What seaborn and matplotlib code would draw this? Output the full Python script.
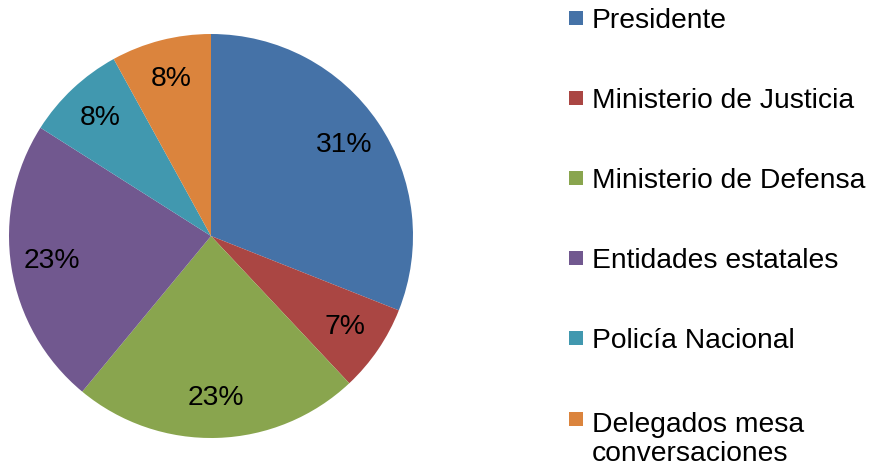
import matplotlib
matplotlib.use("Agg")
import matplotlib.pyplot as plt
import seaborn as sns
from matplotlib.patches import Rectangle

sns.set_theme(style="white")
plt.rcParams['font.family'] = ['Liberation Sans', 'DejaVu Sans']

categories = ["Presidente", "Ministerio de Justicia", "Ministerio de Defensa",
              "Entidades estatales", "Policía Nacional", "Delegados mesa\nconversaciones"]
values = [31, 7, 23, 23, 8, 8]
colors = ["#4572A7", "#AA4643", "#89A54E", "#71588F", "#4198AF", "#DB843D"]

W, H = 871, 469
fig = plt.figure(figsize=(W / 100, H / 100), dpi=100)
cx, cy, r = 211, 236, 202
ax = fig.add_axes([(cx - r) / W, (H - cy - r) / H, 2 * r / W, 2 * r / H])
ax.pie(values, colors=colors, startangle=90, counterclock=False,
       autopct=lambda p: f"{p:.0f}%", pctdistance=0.8, radius=1,
       textprops=dict(fontsize=20.3, color="black"),
       wedgeprops=dict(linewidth=0))
ax.set_xlim(-1, 1)
ax.set_ylim(-1, 1)
ax.set_aspect('equal')
ax.axis('off')

# legend (square aligned with first text line)
first_baselines = [28, 108, 188, 268, 348, 429]
line_step = 32
for lab, col, b in zip(categories, colors, first_baselines):
    n_lines = lab.count("\n")
    fig.patches.append(Rectangle((569 / W, 1 - (b - 3) / H), 14 / W, 14 / H,
                                 transform=fig.transFigure, facecolor=col,
                                 edgecolor='none'))
    fig.text(592 / W, 1 - (b + n_lines * line_step) / H, lab, fontsize=20.3,
             color="black", va='baseline', ha='left', linespacing=1.15)

fig.savefig("out.png", dpi=100, facecolor="white")
